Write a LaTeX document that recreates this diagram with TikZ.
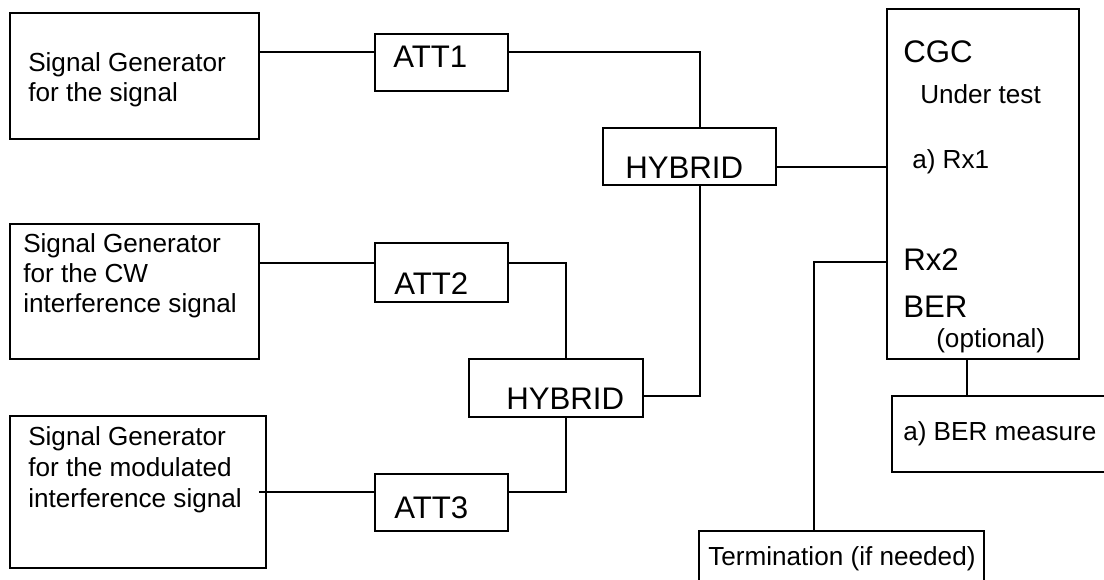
\documentclass[tikz,border=0pt]{standalone}
\usepackage{fontspec}
\setmainfont{Liberation Sans}
\begin{document}
\begin{tikzpicture}[x=0.75pt,y=-0.75pt,
  box/.style={draw,line width=1.4pt,rectangle,inner sep=0pt},
  wire/.style={line width=1.4pt},
  txt/.style={inner sep=0pt,anchor=base west,align=left},
  sm/.style={font=\fontsize{19.6}{22.5}\selectfont},
  lg/.style={font=\fontsize{23.4}{26}\selectfont}]
\useasboundingbox (0,0) rectangle (1104,579);
% boxes
\node[box,minimum width=186.75pt,minimum height=94.5pt] (sg1) at (134.5,76) {};
\node[box,minimum width=99.75pt,minimum height=42.75pt] (att1) at (441.5,62.5) {};
\node[box,minimum width=129.75pt,minimum height=42.75pt] (hyb1) at (689.5,156.5) {};
\node[box,minimum width=144pt,minimum height=262.5pt] (cgc) at (983,184) {};
\node[box,minimum width=186.75pt,minimum height=101.25pt] (sg2) at (134.5,291.5) {};
\node[box,minimum width=99.75pt,minimum height=44.25pt] (att2) at (441.5,272.5) {};
\node[box,minimum width=130.5pt,minimum height=43.5pt] (hyb2) at (556,388) {};
\node[box,minimum width=192pt,minimum height=114pt] (sg3) at (138,492) {};
\node[box,minimum width=99.75pt,minimum height=42.75pt] (att3) at (441.5,502.5) {};
\node[box,minimum width=171pt,minimum height=57pt] (ber) at (1006,434) {};
\node[box,minimum width=213.75pt,minimum height=60pt] (term) at (841.5,571) {};
% texts (base anchor = last line)
\node[txt,font=\fontsize{19.6}{22.5}\selectfont] (t1) at (28,101) {Signal Generator\\for the signal};
\node[txt,font=\fontsize{19.6}{22.2}\selectfont] (t2) at (23,312) {Signal Generator\\for the CW\\interference signal};
\node[txt,font=\fontsize{19.6}{23.2}\selectfont] (t3) at (28,507) {Signal Generator\\for the modulated\\interference signal};
\node[txt,lg] (ta1) at (393,67) {ATT1};
\node[txt,lg] (ta2) at (394,294) {ATT2};
\node[txt,lg] (ta3) at (394,518) {ATT3};
\node[txt,lg] (th1) at (625,178) {HYBRID};
\node[txt,lg] (th2) at (506,409) {HYBRID};
\node[txt,lg] (tc1) at (903,62) {CGC};
\node[txt,sm] (tc2) at (920,103) {Under test};
\node[txt,sm] (tc3) at (912,168) {a) Rx1};
\node[txt,lg] (tc4) at (903,270) {Rx2};
\node[txt,lg] (tc5) at (903,317) {BER};
\node[txt,sm] (tc6) at (936,347) {(optional)};
\node[txt,sm] (tb) at (903,440) {a) BER measure};
\node[txt,sm] (tt) at (708,565) {Termination (if needed)};
% connectors
\coordinate (s3out) at (259,492);
\draw[wire] (sg1.east |- 0,52) -- (att1.west |- 0,52);
\draw[wire] (att1.east |- 0,52) -| (hyb1.north -| 700,0);
\draw[wire] (hyb1.east |- 0,167) -- (cgc.west |- 0,167);
\draw[wire] (hyb1.south -| 700,0) |- (hyb2.east |- 0,396);
\draw[wire] (sg2.east |- 0,263) -- (att2.west |- 0,263);
\draw[wire] (att2.east |- 0,263) -| (hyb2.north -| 566,0);
\draw[wire] (hyb2.south -| 566,0) |- (att3.east |- 0,492);
\draw[wire] (s3out) -- (att3.west |- 0,492);
\draw[wire] (cgc.west |- 0,262) -| (term.north -| 814,0);
\draw[wire] (cgc.south -| 967,0) -- (ber.north -| 967,0);
\end{tikzpicture}
\end{document}
